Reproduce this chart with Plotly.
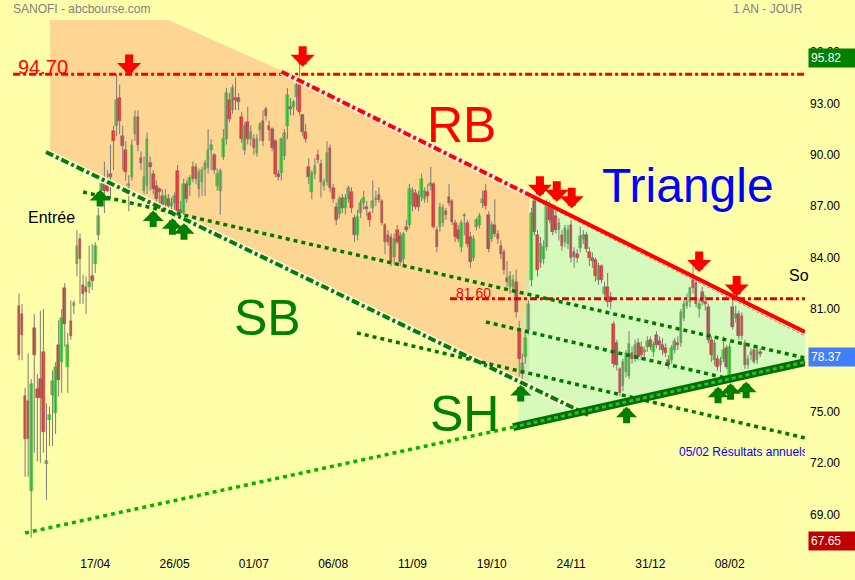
import plotly.graph_objects as go

# ---------------- data ----------------
tick_labels = ["17/04", "26/05", "01/07", "06/08", "11/09", "19/10", "24/11", "31/12", "08/02"]
tick_index = [25, 51, 77, 103, 129, 155, 181, 207, 233]
price_ticks = [69, 72, 75, 81, 84, 87, 90, 93, 96]

opens = [81.2, 80.7, 75.9, 75.6, 70.4, 79.9, 76.3, 76.9, 78.5, 71.95,
         74.5, 76.0, 74.9, 78.9, 77.9, 82.2, 77.6, 80.3, 81.2, 83.6,
         85.1, 82.4, 82.3, 82.3, 82.9, 83.6, 85.3, 87.9, 88.6, 88.5,
         88.9, 91.4, 91.7, 93.3, 91.1, 90.3, 88.2, 88.7, 91.2, 92.2,
         89.8, 87.9, 88.2, 89.5, 88.9, 88.2, 88.0, 87.6, 87.1, 87.4,
         87.0, 87.2, 89.05, 86.8, 86.6, 88.3, 88.24, 89.3, 89.3, 88.0,
         88.4, 89.1, 89.2, 90.3, 90.0, 88.2, 87.9, 89.85, 90.9, 93.2,
         92.6, 93.3, 93.3, 92.2, 90.3, 91.9, 90.95, 90.95, 90.1, 91.45,
         92.0, 92.65, 91.7, 91.5, 90.8, 88.9, 88.95, 89.9, 91.7, 92.8,
         92.8, 93.35, 94.1, 92.3, 91.35, 89.3, 87.85, 88.9, 90.0, 89.45,
         88.15, 88.4, 90.4, 88.05, 86.97, 86.55, 87.5, 86.9, 87.4, 87.8,
         86.3, 85.3, 86.6, 87.2, 86.9, 86.6, 86.9, 87.35, 87.65, 87.3,
         85.9, 85.3, 85.2, 84.05, 85.6, 85.25, 83.9, 85.8, 85.9, 87.0,
         87.75, 87.65, 87.55, 87.4, 87.8, 88.2, 88.3, 85.6, 85.8, 86.0,
         86.7, 87.55, 87.3, 86.0, 85.6, 84.6, 86.4, 86.0, 85.2, 84.0,
         85.8, 85.9, 87.2, 87.9, 86.5, 85.1, 85.9, 85.4, 84.7, 84.3,
         82.8, 82.3, 82.3, 82.6, 79.7, 77.2, 78.2, 79.8, 82.7, 87.3,
         85.3, 83.7, 83.9, 84.6, 87.07, 86.9, 86.4, 85.6, 85.3, 84.9,
         84.8, 85.9, 84.3, 84.2, 84.54, 85.1, 85.3, 84.3, 84.0, 83.86,
         82.7, 83.5, 81.9, 82.3, 81.7, 80.1, 79.0, 77.5, 76.5, 77.3,
         77.1, 78.4, 78.1, 79.0, 78.8, 78.5, 78.8, 79.2, 78.5, 79.5,
         79.1, 78.9, 78.7, 78.0, 78.0, 78.6, 79.0, 79.0, 80.5, 81.2,
         81.4, 82.7, 82.5, 81.0, 82.0, 81.4, 81.1, 79.2, 78.0, 78.1,
         77.7, 78.1, 78.7, 77.1, 81.1, 80.45, 80.7, 80.6, 79.0, 77.7,
         78.3, 78.6, 78.0, 78.5]
highs = [81.9, 81.3, 76.4, 78.4, 76.9, 80.7, 77.2, 80.9, 81.0, 75.5,
         75.3, 77.4, 77.9, 80.35, 81.0, 82.5, 79.6, 81.5, 81.5, 85.6,
         85.4, 83.0, 82.9, 84.7, 84.8, 84.9, 86.9, 88.6, 89.6, 89.1,
         90.6, 91.7, 94.7, 94.1, 91.7, 90.8, 88.8, 90.9, 92.6, 92.6,
         90.2, 89.9, 91.3, 89.9, 89.1, 88.5, 88.1, 88.0, 88.0, 87.7,
         87.5, 87.8, 89.4, 87.3, 88.6, 88.5, 88.8, 89.6, 89.5, 89.2,
         89.3, 89.7, 91.5, 90.9, 90.1, 89.2, 89.2, 91.5, 93.9, 93.6,
         94.1, 94.5, 93.6, 92.5, 91.9, 92.8, 91.7, 91.2, 91.2, 91.9,
         92.6, 92.8, 92.0, 91.6, 90.9, 89.1, 91.0, 91.5, 93.9, 93.3,
         93.2, 94.3, 95.82, 92.4, 91.8, 89.8, 89.1, 89.8, 90.3, 89.7,
         88.6, 90.8, 90.6, 88.3, 87.2, 87.6, 87.7, 87.7, 88.2, 88.1,
         86.5, 86.8, 87.4, 87.9, 87.3, 86.7, 88.5, 87.9, 88.1, 87.4,
         86.0, 85.6, 85.4, 85.4, 85.9, 85.5, 85.5, 86.2, 88.3, 88.1,
         88.0, 87.9, 88.9, 88.1, 88.3, 89.3, 88.4, 85.8, 87.2, 87.1,
         86.9, 88.3, 87.4, 86.2, 85.9, 86.2, 86.6, 86.2, 85.5, 85.3,
         86.3, 86.6, 87.9, 88.3, 86.7, 86.1, 87.4, 85.6, 85.0, 84.5,
         83.8, 83.2, 83.0, 83.3, 80.3, 78.4, 79.8, 81.5, 86.9, 87.6,
         85.6, 85.2, 85.0, 87.4, 87.3, 87.1, 86.7, 86.3, 85.6, 85.9,
         85.9, 86.2, 84.6, 84.5, 85.8, 85.6, 85.5, 84.6, 84.3, 84.0,
         83.7, 83.6, 82.6, 83.1, 82.0, 80.3, 79.2, 77.6, 78.1, 78.6,
         79.7, 78.8, 79.2, 79.3, 79.1, 78.8, 79.4, 79.4, 79.1, 79.7,
         79.4, 79.3, 79.0, 78.3, 78.9, 79.3, 79.4, 81.0, 81.5, 81.9,
         82.3, 83.9, 82.7, 81.6, 82.3, 81.8, 81.3, 79.4, 79.2, 78.3,
         78.2, 79.4, 78.9, 79.0, 81.5, 81.2, 80.9, 80.8, 79.2, 78.3,
         78.7, 78.8, 78.8, 78.7]
lows = [78.0, 78.0, 71.2, 71.2, 67.65, 72.6, 72.1, 72.0, 72.6, 69.85,
        73.0, 73.0, 73.7, 75.9, 76.1, 78.8, 76.1, 79.2, 80.7, 82.9,
        81.3, 81.3, 80.7, 81.9, 82.1, 83.1, 85.0, 87.0, 86.6, 87.8,
        87.4, 89.1, 91.1, 91.2, 89.1, 88.5, 86.7, 88.5, 90.8, 90.2,
        89.1, 87.7, 87.7, 87.9, 87.7, 87.2, 86.8, 86.7, 86.5, 86.6,
        86.4, 86.8, 86.4, 86.2, 86.4, 87.2, 87.6, 88.4, 88.3, 87.5,
        87.6, 87.6, 88.9, 89.1, 88.9, 87.9, 86.5, 89.7, 90.6, 91.9,
        92.4, 92.6, 92.6, 90.7, 90.0, 90.6, 90.5, 90.0, 89.9, 90.8,
        90.5, 92.0, 90.8, 90.2, 88.7, 88.5, 88.5, 89.7, 90.9, 92.3,
        92.3, 92.6, 92.3, 91.1, 90.7, 88.3, 87.4, 88.6, 89.5, 87.5,
        87.9, 88.2, 87.8, 87.2, 85.9, 86.3, 86.6, 86.5, 87.2, 86.6,
        84.9, 85.0, 86.3, 86.8, 86.4, 85.8, 86.6, 87.0, 87.2, 85.9,
        84.2, 84.7, 83.5, 83.6, 84.8, 83.5, 83.5, 85.5, 85.7, 86.7,
        86.8, 86.7, 87.3, 87.2, 87.2, 87.9, 85.7, 84.3, 85.5, 85.8,
        86.2, 87.0, 85.9, 84.9, 84.9, 84.3, 85.3, 84.6, 83.4, 83.8,
        85.6, 85.7, 86.9, 86.8, 84.3, 84.9, 85.2, 84.8, 83.9, 83.0,
        82.3, 81.9, 82.0, 80.5, 77.05, 76.6, 77.8, 79.5, 82.3, 85.3,
        82.9, 83.4, 83.6, 84.4, 86.0, 85.3, 85.4, 85.0, 84.4, 84.6,
        84.5, 83.7, 83.4, 83.7, 84.3, 84.8, 84.3, 83.5, 83.4, 82.6,
        82.4, 82.5, 81.6, 81.1, 81.0, 77.6, 77.4, 75.9, 76.2, 77.0,
        76.9, 77.8, 77.9, 78.0, 78.0, 78.2, 78.5, 78.6, 78.2, 78.7,
        78.6, 78.3, 78.2, 77.5, 77.8, 78.4, 78.6, 78.8, 80.3, 81.0,
        81.1, 81.9, 81.1, 80.5, 81.2, 80.9, 79.0, 77.9, 77.7, 77.4,
        77.3, 77.9, 77.5, 76.8, 79.8, 80.2, 79.2, 79.2, 77.5, 77.5,
        78.0, 77.8, 77.8, 78.2]
closes = [78.3, 79.5, 73.4, 73.4, 76.6, 78.3, 75.8, 75.8, 73.8, 72.1,
          74.8, 76.8, 77.6, 76.85, 80.45, 80.1, 78.9, 79.4, 81.35, 84.7,
          83.9, 81.9, 82.0, 82.6, 82.65, 84.7, 86.4, 88.3, 87.9, 87.9,
          88.7, 90.8, 93.2, 92.0, 90.5, 89.0, 88.25, 90.6, 92.2, 90.6,
          89.5, 88.7, 90.9, 89.3, 88.0, 87.4, 87.8, 87.0, 87.6, 87.0,
          87.2, 87.6, 86.7, 86.6, 88.3, 87.4, 88.62, 88.6, 88.6, 89.0,
          89.1, 89.5, 90.3, 90.6, 89.1, 88.9, 89.05, 90.9, 93.6, 92.1,
          93.9, 93.2, 93.1, 90.9, 91.7, 90.9, 91.35, 90.4, 90.95, 91.8,
          90.8, 92.25, 91.45, 90.4, 88.9, 88.7, 90.9, 91.3, 93.5, 92.65,
          93.1, 94.1, 92.5, 91.35, 90.95, 88.7, 88.95, 89.35, 89.7, 88.4,
          88.4, 90.1, 88.05, 87.4, 86.2, 87.4, 86.9, 87.5, 88.05, 86.9,
          85.3, 86.35, 87.2, 87.5, 86.85, 86.2, 87.3, 87.5, 87.35, 86.0,
          84.9, 84.9, 83.76, 85.1, 84.9, 83.76, 85.4, 85.6, 88.0, 87.95,
          86.97, 86.97, 88.57, 87.9, 87.6, 88.35, 85.8, 84.6, 86.97, 86.9,
          86.5, 87.2, 86.1, 85.2, 85.1, 86.0, 86.5, 84.8, 83.76, 85.1,
          86.2, 86.4, 87.4, 87.0, 84.5, 85.9, 85.4, 85.1, 84.2, 83.3,
          82.6, 82.9, 82.7, 80.84, 78.1, 77.85, 79.3, 81.3, 86.6, 85.5,
          83.3, 84.8, 84.6, 87.07, 86.2, 85.5, 85.6, 86.0, 84.7, 85.7,
          85.6, 83.95, 84.05, 84.0, 85.26, 85.3, 84.5, 83.95, 83.8, 82.9,
          83.5, 82.7, 82.3, 81.4, 81.4, 77.8, 77.7, 76.1, 77.9, 78.4,
          78.95, 78.1, 78.9, 78.2, 78.3, 78.6, 79.1, 78.8, 78.9, 78.9,
          78.9, 78.6, 78.4, 77.7, 78.7, 79.1, 78.9, 80.84, 81.3, 81.4,
          82.2, 82.2, 81.3, 81.3, 81.4, 81.3, 79.2, 78.3, 79.0, 77.6,
          78.0, 78.6, 77.6, 78.8, 79.96, 80.7, 79.4, 79.4, 77.7, 78.1,
          78.5, 77.9, 78.6, 78.37]
days = list(range(len(opens)))

# chart drawings, in (trading-day index, price)
level_high = 94.70
level_mid = 81.60
orange_zone = [(10.2, 97.87), (48.9, 97.87), (86.2, 94.9), (167.3, 87.7), (167.3, 76.5), (10.2, 90.05)]
triangle_zone = [(167.9, 87.61), (257.7, 79.65), (257.7, 77.9), (163.6, 74.22)]
rb_dashdot = [(86.1, 94.85), (167.9, 87.61)]
rb_solid = [(167.9, 87.61), (257.7, 79.65)]
rb_thin = [(168.5, 87.42), (257.7, 79.42)]
sb_line = [(8.85, 90.16), (186.6, 74.81)]
dotted_lines = [[(21.0, 87.83), (257.7, 78.14)],
                [(110.8, 79.6), (257.7, 73.47)],
                [(153.1, 80.24), (233.1, 76.91)]]
long_support = [(1.97, 67.92), (162.0, 74.1)]
sh_line = [(162.0, 74.1), (257.7, 77.9)]
red_arrows = [(36.1, 94.66), (93.0, 95.14), (170.8, 87.55), (176.3, 87.26), (181.2, 86.88),
              (223.0, 83.16), (235.3, 81.72)]
green_arrows = [(26.6, 87.94), (44.0, 86.74), (50.3, 86.29), (54.1, 86.0), (164.5, 76.56),
                (199.2, 75.29), (229.2, 76.46), (233.3, 76.66), (238.4, 76.75)]
price_boxes = [("95.82", 95.82, "#008000"), ("78.37", 78.37, "#3f7fff"), ("67.65", 67.65, "#c00000")]

BG = "#FFFFAA"
FONT = "Liberation Sans, Arial, sans-serif"
X_RANGE = [-6.23, 257.7]
Y_RANGE = [66.636, 97.868]

fig = go.Figure()


def path_of(points):
    return "M " + " L ".join(f"{x},{y}" for x, y in points) + " Z"


def add_line(pts, color, width, dash="solid", layer="above"):
    (x0, y0), (x1, y1) = pts
    fig.add_shape(type="line", xref="x", yref="y", x0=x0, y0=y0, x1=x1, y1=y1,
                  line=dict(color=color, width=width, dash=dash), layer=layer)


# zones
fig.add_shape(type="path", xref="x", yref="y", path=path_of(orange_zone),
              fillcolor="rgb(252,214,146)", line=dict(width=0), layer="below")
fig.add_shape(type="path", xref="x", yref="y", path=path_of(triangle_zone),
              fillcolor="rgba(178,246,200,0.55)", line=dict(width=0), layer="below")

# candles: wicks then bodies
wick_x, wick_y = [], []
for d, h, l in zip(days, highs, lows):
    wick_x += [d, d, None]
    wick_y += [l, h, None]
fig.add_trace(go.Scatter(x=wick_x, y=wick_y, mode="lines", line=dict(color="#7a7a7a", width=1),
                         hoverinfo="skip", showlegend=False))

up = [c >= o for o, c in zip(opens, closes)]
fig.add_trace(go.Bar(
    x=days,
    base=[min(o, c) for o, c in zip(opens, closes)],
    y=[max(abs(c - o), 0.08) for o, c in zip(opens, closes)],
    width=0.88,
    marker=dict(color=["#40dc40" if u else "#ea3434" for u in up],
                line=dict(color=["#62a040" if u else "#b04040" for u in up], width=0.5)),
    hoverinfo="skip", showlegend=False))

# horizontal levels
add_line([(X_RANGE[0] + 4.3, level_high), (X_RANGE[1], level_high)], "#FF0000", 3, "7px,3px,3px,3px")
add_line([(141.3, level_mid), (X_RANGE[1], level_mid)], "#E00000", 3, "7px,3px,3px,3px")

# RB
add_line(rb_dashdot, "rgba(255,240,215,0.9)", 7)
add_line(rb_dashdot, "#FF0000", 4, "8px,3px,3px,3px")
add_line(rb_thin, "#E87070", 1, "3px,2px")
add_line(rb_solid, "#FF0000", 4)

# SB
add_line(sb_line, "rgba(255,250,215,0.9)", 7)
add_line(sb_line, "#007F00", 4, "8px,3px,3px,3px")

for ln in dotted_lines:
    add_line(ln, "#007700", 3.5, "4px,4px")
add_line(long_support, "#00B400", 3.5, "4px,4px")

# SH thick line
add_line(sh_line, "#007000", 8)
add_line(sh_line, "#33B833", 3, "4px,3px")

# arrows
for xa, ya in red_arrows:
    fig.add_annotation(x=xa, y=ya, xref="x", yref="y", text="", showarrow=True, ax=0, ay=-22,
                       arrowhead=1, arrowsize=0.5, arrowwidth=8, arrowcolor="#FF0000", standoff=0)
for xa, ya in green_arrows:
    fig.add_annotation(x=xa, y=ya, xref="x", yref="y", text="", showarrow=True, ax=0, ay=18,
                       arrowhead=1, arrowsize=0.5, arrowwidth=7, arrowcolor="#007F00", standoff=0)


# texts
def label(text, x, y, size, color, xanchor="center", **kw):
    fig.add_annotation(x=x, y=y, xref="x", yref="y", text=text, showarrow=False,
                       xanchor=xanchor, yanchor="middle",
                       font=dict(family=FONT, size=size, color=color), **kw)


label("RB", 145.1, 91.74, 50, "#FF0000")
label("Triangle", 219.3, 88.18, 48, "#0000FF")
label("SB", 81.6, 80.50, 50, "#008000")
label("SH", 145.9, 74.84, 50, "#008000")
label("Entrée", 10.7, 86.31, 16, "#000000")
label("So", 251.8, 82.98, 16, "#000000", xanchor="left")
label("94.70", 7.9, 95.12, 20, "#FF0000")
label("81.60", 148.9, 81.96, 14, "#FF0000")
label("05/02 Résultats annuels", 215.7, 72.62, 12, "#0000FF", xanchor="left", width=126, align="left")

# price boxes on the axis
for txt, val, col in price_boxes:
    fig.add_annotation(x=1, y=val, xref="paper", yref="y", text=txt, showarrow=False,
                       xanchor="left", yanchor="middle", xshift=3, yshift=-3,
                       bgcolor=col, width=44, align="left", borderpad=2,
                       font=dict(family=FONT, size=12, color="#FFFFFF"))

# header
fig.add_annotation(x=0, y=1, xref="paper", yref="paper", text="SANOFI - abcbourse.com", showarrow=False,
                   xanchor="left", yanchor="middle", xshift=11, yshift=11,
                   font=dict(family=FONT, size=12, color="#808080"))
fig.add_annotation(x=1, y=1, xref="paper", yref="paper", text="1 AN - JOUR", showarrow=False,
                   xanchor="right", yanchor="middle", yshift=11,
                   font=dict(family=FONT, size=12, color="#808080"))

fig.update_layout(
    width=855, height=580,
    margin=dict(l=0, r=50, t=20, b=25),
    paper_bgcolor=BG, plot_bgcolor=BG,
    showlegend=False, bargap=0,
    font=dict(family=FONT, size=12, color="#000000"),
    xaxis=dict(range=X_RANGE, tickvals=tick_index, ticktext=tick_labels, showgrid=False,
               zeroline=False, showline=False, ticks="",
               tickfont=dict(family=FONT, size=12, color="#000000")),
    yaxis=dict(side="right", range=Y_RANGE, tickvals=price_ticks, tickformat=".2f",
               showgrid=False, zeroline=False, showline=False, ticks="",
               ticklabelstandoff=4,
               tickfont=dict(family=FONT, size=12, color="#000000")),
)

fig.write_html("out.html", config={"displayModeBar": False},
               post_script="document.body.style.margin='0px';document.body.style.background='#FFFFAA';")
